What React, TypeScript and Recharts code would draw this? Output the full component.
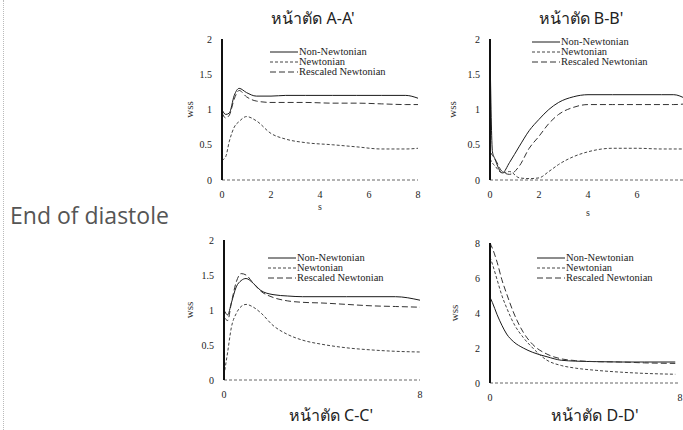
import { LineChart, Line, XAxis, YAxis, Legend } from "recharts"

// section A-A'
const aTime = [0, 0.15, 0.3, 0.5, 0.7, 1.0, 1.4, 2, 2.6, 3.4, 4.5, 5.5, 6.5, 7.5, 8]
const aNonNewtonian = [1.0, 0.93, 0.95, 1.2, 1.3, 1.24, 1.19, 1.19, 1.2, 1.2, 1.2, 1.2, 1.2, 1.2, 1.16]
const aNewtonian = [0.28, 0.33, 0.55, 0.75, 0.83, 0.9, 0.84, 0.66, 0.58, 0.53, 0.5, 0.47, 0.44, 0.44, 0.45]
const aRescaled = [0.95, 0.88, 0.92, 1.15, 1.27, 1.18, 1.12, 1.1, 1.1, 1.1, 1.09, 1.09, 1.08, 1.07, 1.07]

// section B-B'
const bTime = [0, 0.1, 0.2, 0.5, 0.8, 1.2, 1.6, 2, 2.4, 2.8, 3.4, 4, 5, 6, 7, 7.5, 8]
const bNonNewtonian = [1.85, 0.4, 0.3, 0.1, 0.25, 0.48, 0.7, 0.86, 1.0, 1.1, 1.18, 1.21, 1.21, 1.21, 1.21, 1.21, 1.15]
const bNewtonian = [0.3, 0.24, 0.2, 0.1, 0.12, 0.03, 0.02, 0.03, 0.12, 0.22, 0.33, 0.4, 0.45, 0.45, 0.44, 0.44, 0.44]
const bRescaled = [0.4, 0.35, 0.3, 0.12, 0.08, 0.2, 0.45, 0.62, 0.8, 0.93, 1.03, 1.07, 1.07, 1.07, 1.07, 1.07, 1.08]

// section C-C'
const cTime = [0, 0.15, 0.3, 0.5, 0.7, 0.9, 1.2, 1.5, 2, 2.6, 3.2, 4, 5, 6, 7, 8]
const cNonNewtonian = [1.0, 0.93, 1.1, 1.33, 1.42, 1.45, 1.38, 1.28, 1.22, 1.2, 1.19, 1.19, 1.19, 1.19, 1.19, 1.14]
const cNewtonian = [0.07, 0.4, 0.75, 0.95, 1.05, 1.08, 1.04, 0.96, 0.78, 0.65, 0.57, 0.51, 0.46, 0.43, 0.41, 0.4]
const cRescaled = [0.9, 0.85, 1.1, 1.4, 1.52, 1.5, 1.38, 1.27, 1.18, 1.13, 1.11, 1.1, 1.08, 1.06, 1.05, 1.04]

// section D-D'
const dTime = [0, 0.1, 0.3, 0.5, 0.7, 1.0, 1.4, 1.8, 2.4, 3.0, 3.6, 4.5, 5.5, 6.5, 7.8]
const dNonNewtonian = [4.9, 4.6, 3.9, 3.3, 2.8, 2.35, 2.0, 1.75, 1.5, 1.3, 1.25, 1.22, 1.2, 1.2, 1.2]
const dNewtonian = [7.2, 6.8, 5.9, 5.0, 4.3, 3.4, 2.6, 2.0, 1.3, 1.0, 0.85, 0.72, 0.62, 0.55, 0.5]
const dRescaled = [8.0, 7.7, 6.9, 5.9, 5.1, 4.0, 2.9, 2.2, 1.65, 1.38, 1.28, 1.22, 1.2, 1.15, 1.12]

const wssTicks = [0, 0.5, 1, 1.5, 2]
const wssTicksD = [0, 2, 4, 6, 8]
const timeTicks = [0, 2, 4, 6, 8]
const timeTicksEnds = [0, 8]

const SERIES = [
  { key: "nonNewtonian", name: "Non-Newtonian", dash: undefined, color: "#1a1a1a" },
  { key: "newtonian", name: "Newtonian", dash: "3 2", color: "#444" },
  { key: "rescaled", name: "Rescaled Newtonian", dash: "6 3", color: "#333" },
]

const serif = "'Liberation Serif', 'DejaVu Serif', serif"

function rows(t: number[], nn: number[], n: number[], r: number[]) {
  return t.map((x, i) => ({ t: x, nonNewtonian: nn[i], newtonian: n[i], rescaled: r[i] }))
}

function LegendBox() {
  return (
    <div style={{ fontFamily: serif, fontSize: 10.5, color: "#222", lineHeight: "10px" }}>
      {SERIES.map((s) => (
        <div key={s.key} style={{ display: "flex", alignItems: "center", height: 10 }}>
          <svg width={28} height={6}>
            <line x1={0} y1={3} x2={28} y2={3} stroke={s.color} strokeWidth={1} strokeDasharray={s.dash} />
          </svg>
          <span style={{ marginLeft: 1, whiteSpace: "nowrap" }}>{s.name}</span>
        </div>
      ))}
    </div>
  )
}

type PanelProps = {
  plotLeft: number
  plotTop: number
  plotW: number
  plotH: number
  data: any[]
  yMax: number
  yTicks: number[]
  xTicks: number[]
  labelX: number
  legendLeft: number
  legendTop: number
  xh?: number
  showS?: boolean
}

function Panel(p: PanelProps) {
  const yw = 52
  const mt = 5
  const mr = 5
  const xh = p.xh ?? 32
  const left = p.plotLeft - yw
  return (
    <div style={{ position: "absolute", left, top: p.plotTop - mt }}>
      <LineChart
        width={yw + p.plotW + mr}
        height={mt + p.plotH + xh}
        data={p.data}
        margin={{ top: mt, right: mr, left: 0, bottom: 0 }}
      >
        <XAxis
          dataKey="t"
          type="number"
          domain={[0, 8]}
          ticks={p.xTicks}
          tickLine={false}
          tickSize={6}
          tickMargin={5}
          height={xh}
          axisLine={{ stroke: "#666", strokeDasharray: "3 2" }}
          tick={{ fontFamily: serif, fontSize: 10, fill: "#222" }}
          label={p.showS ? { value: "s", position: "insideBottom", offset: 2, style: { fontFamily: serif, fontSize: 10, fill: "#333" } } : undefined}
        />
        <XAxis xAxisId="top" orientation="top" type="number" domain={[0, 8]} height={0} tick={false} tickLine={false} axisLine={{ stroke: "#888" }} />
        <YAxis
          type="number"
          domain={[0, p.yMax]}
          ticks={p.yTicks}
          width={yw}
          tickLine={false}
          tickSize={4}
          tickMargin={6}
          axisLine={{ stroke: "#111", strokeWidth: 2 }}
          tick={{ fontFamily: serif, fontSize: 10, fill: "#222" }}
          label={{ value: "wss", angle: -90, position: "insideLeft", offset: p.labelX - left, style: { textAnchor: "middle", fontFamily: serif, fontSize: 11, fill: "#333" } }}
        />
        <YAxis yAxisId="right" orientation="right" domain={[0, p.yMax]} width={0} tick={false} tickLine={false} axisLine={{ stroke: "#888" }} />
        <Legend
          layout="vertical"
          align="center"
          verticalAlign="middle"
          content={() => <LegendBox />}
          wrapperStyle={{ left: p.legendLeft + (yw - 42), top: p.legendTop, width: "auto" }}
        />
        {SERIES.map((s) => (
          <Line
            key={s.key}
            dataKey={s.key}
            name={s.name}
            type="monotone"
            stroke={s.color}
            strokeWidth={1}
            strokeDasharray={s.dash}
            dot={false}
            isAnimationActive={false}
          />
        ))}
      </LineChart>
    </div>
  )
}

const titleStyle: React.CSSProperties = {
  position: "absolute",
  fontFamily: "'Noto Sans', 'DejaVu Sans', sans-serif",
  fontSize: 16,
  color: "#222",
  transform: "translate(-50%, -50%)",
  whiteSpace: "nowrap",
}

export default function App() {
  return (
    <div style={{ position: "absolute", left: 0, top: 0, width: 683, height: 430, background: "#fff", overflow: "hidden" }}>
      <div style={{ position: "absolute", left: 3, top: 0, height: 430, borderLeft: "1px dotted #bbb" }} />
      <div style={{ ...titleStyle, left: 313, top: 18 }}>หน้าตัด A-A'</div>
      <div style={{ ...titleStyle, left: 581, top: 18 }}>หน้าตัด B-B'</div>
      <div style={{ ...titleStyle, left: 331, top: 415 }}>หน้าตัด C-C'</div>
      <div style={{ ...titleStyle, left: 595, top: 415 }}>หน้าตัด D-D'</div>
      <div
        style={{
          position: "absolute",
          left: 10,
          top: 215,
          transform: "translateY(-50%)",
          fontFamily: "'Open Sans', sans-serif",
          fontSize: 23,
          color: "#555",
        }}
      >
        End of diastole
      </div>
      <Panel plotLeft={222} plotTop={39} plotW={196} plotH={141} data={rows(aTime, aNonNewtonian, aNewtonian, aRescaled)} yMax={2} yTicks={wssTicks} xTicks={timeTicks} labelX={189} legendLeft={90} legendTop={13} showS />
      <Panel plotLeft={490} plotTop={39} plotW={196} plotH={141} data={rows(bTime, bNonNewtonian, bNewtonian, bRescaled)} yMax={2} yTicks={wssTicks} xTicks={timeTicks} labelX={452} legendLeft={84} legendTop={3} xh={38} showS />
      <Panel plotLeft={224} plotTop={240} plotW={196} plotH={140} data={rows(cTime, cNonNewtonian, cNewtonian, cRescaled)} yMax={2} yTicks={wssTicks} xTicks={timeTicksEnds} labelX={189} legendLeft={86} legendTop={18} />
      <Panel plotLeft={490} plotTop={243} plotW={190} plotH={140} data={rows(dTime, dNonNewtonian, dNewtonian, dRescaled)} yMax={8} yTicks={wssTicksD} xTicks={timeTicksEnds} labelX={454} legendLeft={89} legendTop={15} />
    </div>
  )
}
